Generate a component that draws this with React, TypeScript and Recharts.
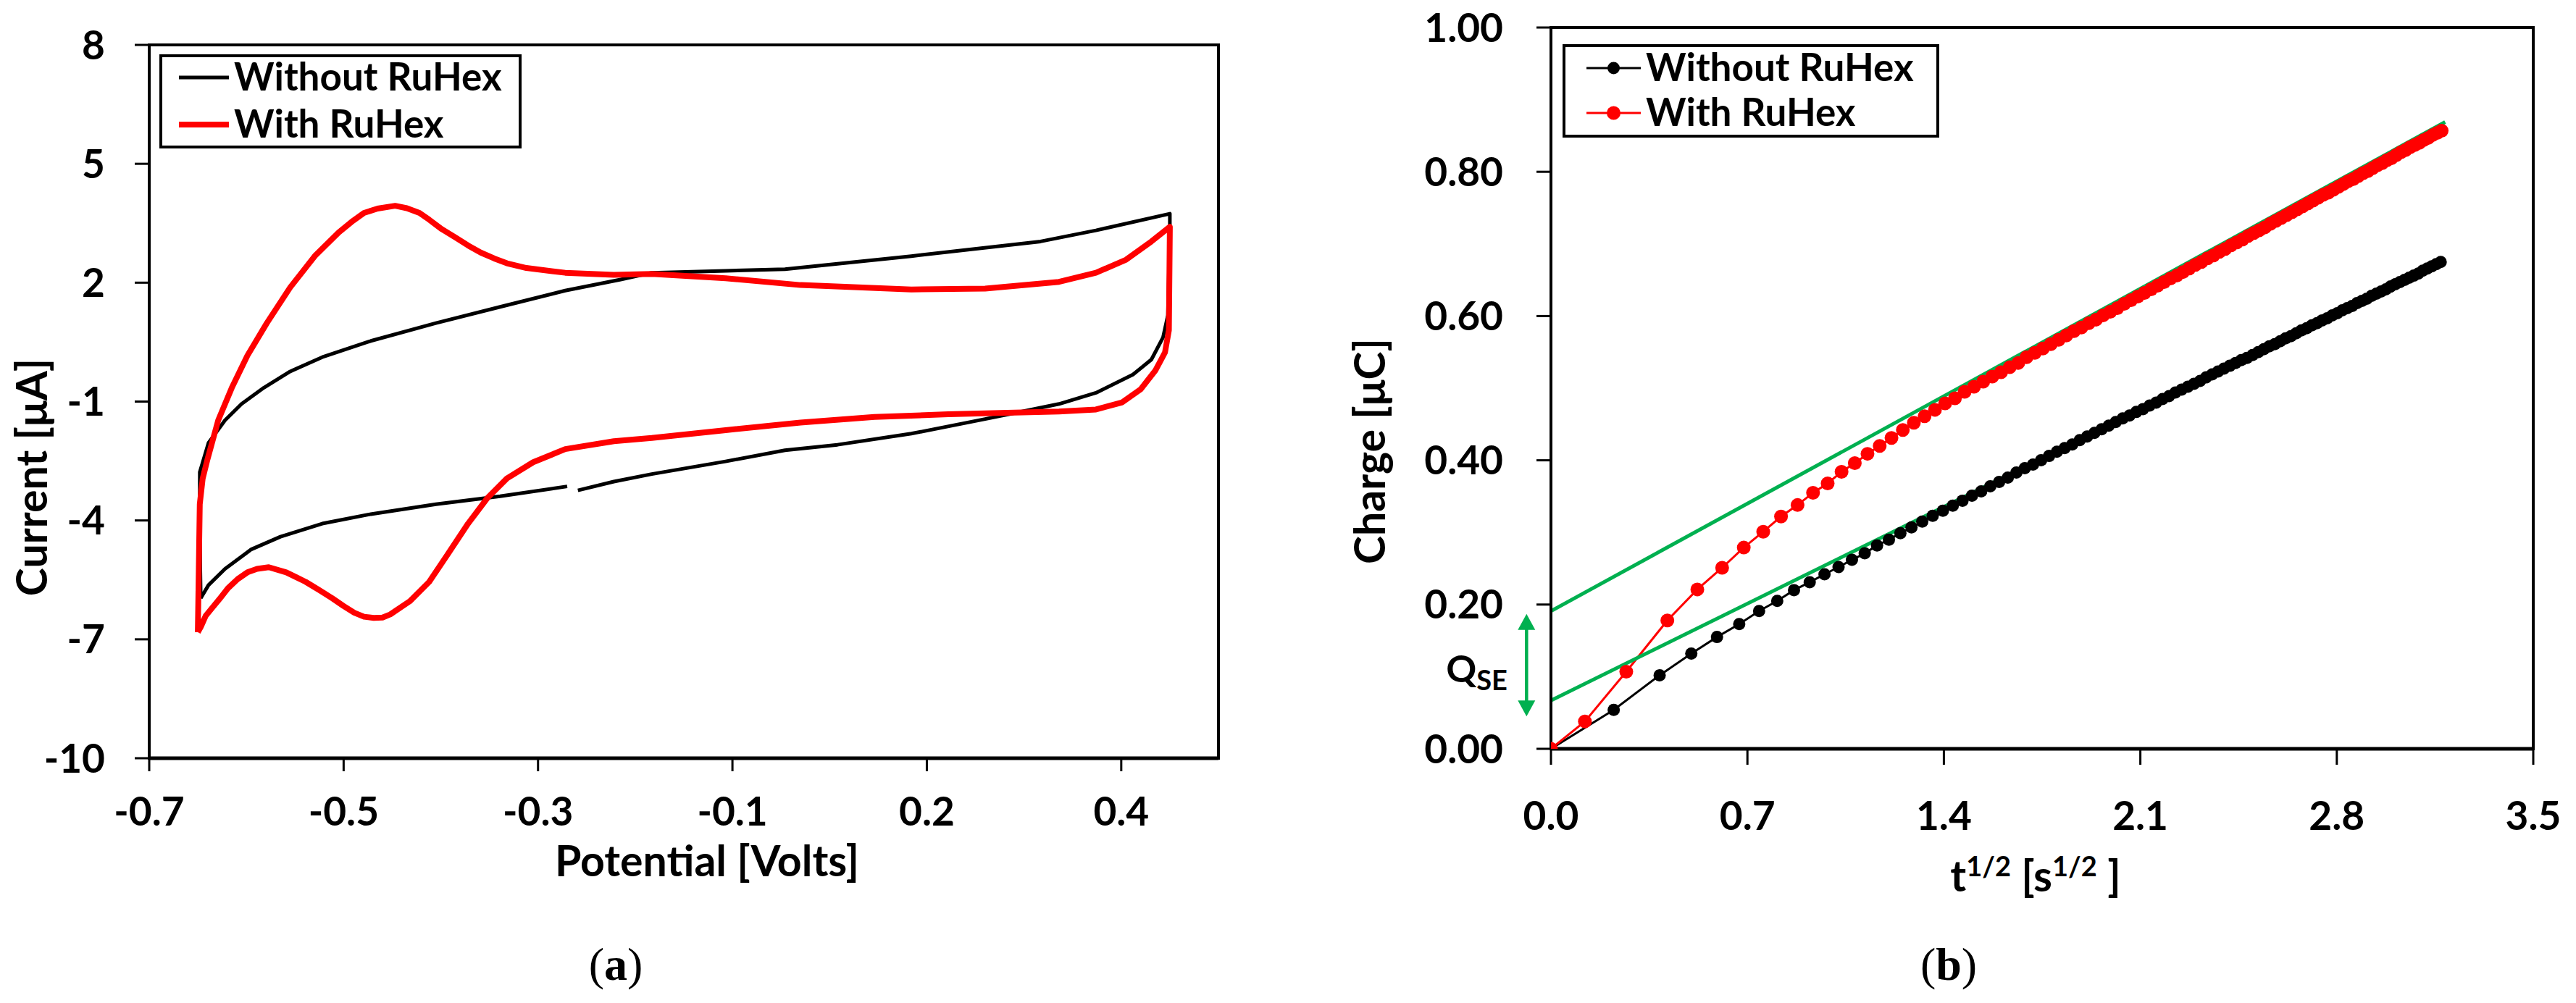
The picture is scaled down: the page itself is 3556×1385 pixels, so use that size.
import React from 'react';
import {
  LineChart,
  Line,
  XAxis,
  YAxis,
  ReferenceArea,
  ReferenceLine,
  ReferenceDot,
  Legend,
} from 'recharts';

const FONT = 'Lato, "Open Sans", "DejaVu Sans", sans-serif';
const SERIF = '"Liberation Serif", "DejaVu Serif", serif';

// ---------------- Panel (a): cyclic voltammetry ----------------
const cvTicksX = [-0.65, -0.45, -0.25, -0.05, 0.15, 0.35];
const cvTickLabelsX = ['-0.7', '-0.5', '-0.3', '-0.1', '0.2', '0.4'];
const cvTicksY = [-10, -7, -4, -1, 2, 5, 8];

const cvWithoutV = [
  -0.597, -0.598, -0.598, -0.589, -0.572, -0.555, -0.532, -0.505, -0.472, -0.422,
  -0.355, -0.289, -0.222, -0.165, -0.133, -0.057, 0.004, 0.134, 0.267, 0.324,
  0.4, 0.4, 0.398, 0.393, 0.381, 0.362, 0.324, 0.286, 0.248, 0.21,
  0.134, 0.058, 0.004, -0.057, -0.133, -0.172, -0.209, -0.214, -0.22, -0.289,
  -0.355, -0.422, -0.472, -0.515, -0.545, -0.572, -0.589, -0.597,
];
const cvWithoutI = [
  -5.96, -4.4, -2.78, -2.04, -1.47, -1.06, -0.65, -0.24, 0.12, 0.53,
  0.98, 1.39, 1.8, 2.08, 2.25, 2.3, 2.34, 2.67, 3.04, 3.32,
  3.74, 3.41, 1.18, 0.62, 0.06, -0.32, -0.78, -1.06, -1.25, -1.44,
  -1.81, -2.09, -2.23, -2.51, -2.83, -3.02, -3.24, null, -3.14, -3.39,
  -3.59, -3.84, -4.08, -4.41, -4.73, -5.22, -5.63, -5.96,
];
const cvWithV = [
  -0.6, -0.599, -0.598, -0.595, -0.59, -0.579, -0.565, -0.549, -0.529, -0.505,
  -0.479, -0.455, -0.442, -0.429, -0.415, -0.397, -0.385, -0.372, -0.362, -0.349,
  -0.335, -0.322, -0.309, -0.295, -0.282, -0.262, -0.222, -0.172, -0.133, -0.057,
  0.02, 0.134, 0.21, 0.286, 0.324, 0.355, 0.381, 0.4, 0.399, 0.395,
  0.385, 0.37, 0.351, 0.324, 0.286, 0.172, 0.096, 0.02, -0.057, -0.133,
  -0.172, -0.222, -0.255, -0.282, -0.302, -0.322, -0.342, -0.362, -0.382, -0.402,
  -0.41, -0.419, -0.429, -0.439, -0.45, -0.462, -0.475, -0.489, -0.499, -0.509,
  -0.527, -0.539, -0.549, -0.559, -0.569, -0.577, -0.585, -0.592, -0.597, -0.6,
];
const cvWithI = [
  -6.82, -5.22, -3.59, -2.94, -2.45, -1.47, -0.65, 0.16, 0.98, 1.88,
  2.69, 3.27, 3.53, 3.76, 3.87, 3.94, 3.88, 3.76, 3.59, 3.35,
  3.14, 2.94, 2.76, 2.61, 2.49, 2.37, 2.25, 2.2, 2.22, 2.11,
  1.94, 1.83, 1.85, 2.02, 2.25, 2.58, 3.04, 3.41, 0.8, 0.24,
  -0.22, -0.69, -1.02, -1.2, -1.25, -1.32, -1.39, -1.53, -1.72, -1.92,
  -2.0, -2.2, -2.53, -2.94, -3.43, -4.08, -4.82, -5.55, -6.04, -6.37,
  -6.45, -6.46, -6.43, -6.33, -6.16, -5.96, -5.76, -5.55, -5.43, -5.31,
  -5.18, -5.22, -5.31, -5.48, -5.71, -5.96, -6.2, -6.41, -6.69, -6.82,
];

// ---------------- Panel (b): chronocoulometry (Anson plot) ----------------
const chTicksX = [0, 0.7, 1.4, 2.1, 2.8, 3.5];
const chTickLabelsX = ['0.0', '0.7', '1.4', '2.1', '2.8', '3.5'];
const chTicksY = [0, 0.2, 0.4, 0.6, 0.8, 1.0];
const chTickLabelsY = ['0.00', '0.20', '0.40', '0.60', '0.80', '1.00'];

const chWithoutX = [
  0, 0.2236, 0.3873, 0.5, 0.5916, 0.6708, 0.7416, 0.8062, 0.866, 0.922,
  0.9747, 1.0247, 1.0724, 1.118, 1.1619, 1.2042, 1.245, 1.2845, 1.3229, 1.3601,
  1.3964, 1.4318, 1.4663, 1.5, 1.533, 1.5652, 1.5969, 1.6279, 1.6583, 1.6882,
  1.7176, 1.7464, 1.7748, 1.8028, 1.8303, 1.8574, 1.8841, 1.9105, 1.9365, 1.9621,
  1.9875, 2.0125, 2.0372, 2.0616, 2.0857, 2.1095, 2.1331, 2.1564, 2.1794, 2.2023,
  2.2249, 2.2472, 2.2694, 2.2913, 2.313, 2.3345, 2.3558, 2.377, 2.3979, 2.4187,
  2.4393, 2.4597, 2.4799, 2.5, 2.5199, 2.5397, 2.5593, 2.5788, 2.5981, 2.6173,
  2.6363, 2.6552, 2.6739, 2.6926, 2.7111, 2.7295, 2.7477, 2.7659, 2.7839, 2.8018,
  2.8196, 2.8373, 2.8548, 2.8723, 2.8896, 2.9069, 2.924, 2.9411, 2.958, 2.9749,
  2.9917, 3.0083, 3.0249, 3.0414, 3.0578, 3.0741, 3.0903, 3.1064, 3.1225, 3.1385,
  3.1544, 3.1702,
];
const chWithoutQ = [
  0, 0.054, 0.102, 0.132, 0.155, 0.173, 0.191, 0.205, 0.22, 0.231,
  0.242, 0.252, 0.262, 0.271, 0.282, 0.29, 0.299, 0.307, 0.315, 0.323,
  0.33, 0.337, 0.344, 0.351, 0.357, 0.364, 0.37, 0.376, 0.383, 0.389,
  0.394, 0.4, 0.406, 0.412, 0.417, 0.422, 0.428, 0.433, 0.438, 0.443,
  0.448, 0.453, 0.458, 0.462, 0.467, 0.471, 0.476, 0.48, 0.485, 0.489,
  0.494, 0.498, 0.502, 0.506, 0.51, 0.515, 0.519, 0.523, 0.527, 0.531,
  0.535, 0.539, 0.542, 0.546, 0.55, 0.554, 0.558, 0.561, 0.565, 0.569,
  0.572, 0.576, 0.58, 0.583, 0.587, 0.59, 0.594, 0.597, 0.601, 0.604,
  0.608, 0.611, 0.614, 0.618, 0.621, 0.624, 0.628, 0.631, 0.634, 0.637,
  0.641, 0.644, 0.647, 0.65, 0.653, 0.656, 0.659, 0.663, 0.666, 0.669,
  0.672, 0.675,
];
const chWithX = [
  0, 0.121, 0.2683, 0.4147, 0.5215, 0.6099, 0.687, 0.7563, 0.8198, 0.8786,
  0.9338, 0.9859, 1.0354, 1.0826, 1.1278, 1.1713, 1.2133, 1.2538, 1.2931, 1.3312,
  1.3682, 1.4043, 1.4394, 1.4738, 1.5073, 1.5401, 1.5723, 1.6037, 1.6346, 1.6649,
  1.6947, 1.724, 1.7527, 1.781, 1.8089, 1.8363, 1.8633, 1.89, 1.9163, 1.9422,
  1.9677, 1.993, 2.0179, 2.0426, 2.0669, 2.0909, 2.1147, 2.1382, 2.1615, 2.1845,
  2.2073, 2.2298, 2.2521, 2.2742, 2.2961, 2.3178, 2.3392, 2.3605, 2.3816, 2.4025,
  2.4232, 2.4438, 2.4641, 2.4843, 2.5044, 2.5243, 2.544, 2.5636, 2.583, 2.6023,
  2.6214, 2.6405, 2.6593, 2.678, 2.6967, 2.7151, 2.7335, 2.7517, 2.7699, 2.7878,
  2.8057, 2.8235, 2.8411, 2.8587, 2.8761, 2.8934, 2.9107, 2.9278, 2.9448, 2.9618,
  2.9786, 2.9953, 3.012, 3.0285, 3.045, 3.0614, 3.0777, 3.0939, 3.11, 3.126,
  3.142, 3.1579, 3.1736,
];
const chWithQ = [
  0, 0.038, 0.107, 0.178, 0.221, 0.251, 0.279, 0.301, 0.322, 0.338,
  0.355, 0.368, 0.384, 0.396, 0.409, 0.42, 0.431, 0.442, 0.452, 0.461,
  0.47, 0.479, 0.486, 0.495, 0.502, 0.509, 0.516, 0.522, 0.529, 0.535,
  0.543, 0.549, 0.555, 0.561, 0.567, 0.573, 0.579, 0.584, 0.59, 0.595,
  0.601, 0.606, 0.611, 0.617, 0.622, 0.627, 0.632, 0.637, 0.642, 0.647,
  0.652, 0.656, 0.661, 0.666, 0.671, 0.675, 0.68, 0.684, 0.689, 0.693,
  0.698, 0.702, 0.706, 0.711, 0.715, 0.719, 0.723, 0.728, 0.732, 0.736,
  0.74, 0.744, 0.748, 0.752, 0.756, 0.76, 0.764, 0.768, 0.771, 0.775,
  0.779, 0.783, 0.787, 0.79, 0.794, 0.798, 0.801, 0.805, 0.809, 0.812,
  0.816, 0.819, 0.823, 0.827, 0.83, 0.834, 0.837, 0.84, 0.844, 0.847,
  0.851, 0.854, 0.857,
];

// linear fits (green)
const fitUpperX = [0, 3.186];
const fitUpperQ = [0.191, 0.869];
const fitLowerX = [0, 3.18];
const fitLowerQ = [0.067, 0.677];

// Q_SE double arrow and label
const qseArrowX = [-0.087, -0.087];
const qseArrowQ = [0.045, 0.187];
const qseLabelX = -0.155;
const qseLabelQ = 0.092;

const zip = (xs: number[], ys: (number | null)[]) => xs.map((x, i) => ({ x, y: ys[i] }));

const tickFont = { fontFamily: FONT, fontWeight: 700, fill: '#000', fontSize: 55 };
const axisText = { fontFamily: FONT, fontWeight: 700, fill: '#000', fontSize: 59 } as const;

type Entry = { name: string; color: string; width: number; r?: number };

function LegendBox({
  w,
  h,
  entries,
  sx1,
  sx2,
  tx,
  rows,
  bases,
}: {
  w: number;
  h: number;
  entries: Entry[];
  sx1: number;
  sx2: number;
  tx: number;
  rows: number[];
  bases: number[];
}) {
  return (
    <svg width={w} height={h} style={{ display: 'block', overflow: 'visible' }}>
      <rect x={2} y={2} width={w - 4} height={h - 4} fill="#fff" stroke="#000" strokeWidth={4} />
      {entries.map((e, i) => (
        <g key={e.name}>
          <line x1={sx1} x2={sx2} y1={rows[i]} y2={rows[i]} stroke={e.color} strokeWidth={e.width} />
          {e.r ? <circle cx={(sx1 + sx2) / 2} cy={rows[i]} r={e.r} fill={e.color} /> : null}
          <text x={tx} y={bases[i]} fontFamily={FONT} fontWeight={700} fontSize={53} fill="#000">
            {e.name}
          </text>
        </g>
      ))}
    </svg>
  );
}

function QseArrow(props: any) {
  const { x1, y1, x2, y2 } = props;
  const x = (x1 + x2) / 2;
  const top = Math.min(y1, y2);
  const bot = Math.max(y1, y2);
  const hw = 12;
  const hh = 22;
  return (
    <g>
      <line x1={x} x2={x} y1={top + hh - 2} y2={bot - hh + 2} stroke="#00B050" strokeWidth={4.5} />
      <polygon points={`${x},${top} ${x - hw},${top + hh} ${x + hw},${top + hh}`} fill="#00B050" />
      <polygon points={`${x},${bot} ${x - hw},${bot - hh} ${x + hw},${bot - hh}`} fill="#00B050" />
    </g>
  );
}

function QseText(props: any) {
  const { cx, cy } = props;
  return (
    <text x={cx} y={cy} textAnchor="end" fontFamily={FONT} fontWeight={700} fontSize={52} fill="#000">
      Q
      <tspan fontSize={38} dy={11}>
        SE
      </tspan>
    </text>
  );
}

function PanelA() {
  return (
    <LineChart width={1778} height={1385} margin={{ top: 62, right: 96, bottom: 258, left: 0 }}>
      <XAxis
        type="number"
        dataKey="x"
        domain={[-0.65, 0.45]}
        ticks={cvTicksX}
        interval={0}
        allowDataOverflow
        tickFormatter={(v: number) => cvTickLabelsX[cvTicksX.indexOf(v)]}
        height={80}
        tickSize={18}
        tickMargin={36}
        axisLine={{ stroke: '#000', strokeWidth: 5 }}
        tickLine={{ stroke: '#000', strokeWidth: 3 }}
        tick={tickFont}
        label={{
          content: () => (
            <g>
              <text x={976} y={1210} textAnchor="middle" {...axisText}>
                Potential [Volts]
              </text>
              <text x={850} y={1353} textAnchor="middle" fontFamily={SERIF} fontSize={64} fill="#000">
                (<tspan fontWeight={700}>a</tspan>)
              </text>
            </g>
          ),
        }}
      />
      <YAxis
        type="number"
        domain={[-10, 8]}
        ticks={cvTicksY}
        interval={0}
        allowDataOverflow
        width={206}
        tickSize={20}
        tickMargin={41}
        axisLine={{ stroke: '#000', strokeWidth: 4 }}
        tickLine={{ stroke: '#000', strokeWidth: 3 }}
        tick={tickFont}
        label={{
          content: () => (
            <text x={65} y={659} transform="rotate(-90 65 659)" textAnchor="middle" {...axisText}>
              Current [μA]
            </text>
          ),
        }}
      />
      <ReferenceArea x1={-0.65} x2={0.45} y1={-10} y2={8} fill="none" stroke="#000" strokeWidth={4} ifOverflow="visible" />
      <Line
        data={zip(cvWithoutV, cvWithoutI)}
        dataKey="y"
        name="Without RuHex"
        type="linear"
        stroke="#000"
        strokeWidth={5}
        strokeLinejoin="round"
        dot={false}
        connectNulls={false}
        isAnimationActive={false}
      />
      <Line
        data={zip(cvWithV, cvWithI)}
        dataKey="y"
        name="With RuHex"
        type="linear"
        stroke="#FF0000"
        strokeWidth={8}
        strokeLinejoin="round"
        dot={false}
        isAnimationActive={false}
      />
      <Legend
        layout="horizontal"
        verticalAlign="middle"
        align="center"
        wrapperStyle={{ left: 220, top: 75, width: 500, height: 130 }}
        content={() => (
          <LegendBox
            w={500}
            h={130}
            sx1={27}
            sx2={96}
            tx={103}
            rows={[32, 97]}
            bases={[50, 115]}
            entries={[
              { name: 'Without RuHex', color: '#000', width: 5 },
              { name: 'With RuHex', color: '#FF0000', width: 8 },
            ]}
          />
        )}
      />
    </LineChart>
  );
}

function PanelB() {
  return (
    <LineChart width={1778} height={1385} margin={{ top: 38, right: 59, bottom: 271, left: 0 }}>
      <XAxis
        type="number"
        dataKey="x"
        domain={[0, 3.5]}
        ticks={chTicksX}
        interval={0}
        allowDataOverflow
        tickFormatter={(v: number) => chTickLabelsX[chTicksX.indexOf(v)]}
        height={80}
        tickSize={22}
        tickMargin={51}
        axisLine={{ stroke: '#000', strokeWidth: 5 }}
        tickLine={{ stroke: '#000', strokeWidth: 3 }}
        tick={tickFont}
        label={{
          content: () => (
            <g>
              <text x={1032} y={1231} textAnchor="middle" {...axisText}>
                t
                <tspan fontSize={38} dy={-21}>
                  1/2
                </tspan>
                <tspan dy={21}> [s</tspan>
                <tspan fontSize={38} dy={-21}>
                  1/2
                </tspan>
                <tspan dy={21}> ]</tspan>
              </text>
              <text x={912} y={1353} textAnchor="middle" fontFamily={SERIF} fontSize={64} fill="#000">
                (<tspan fontWeight={700}>b</tspan>)
              </text>
            </g>
          ),
        }}
      />
      <YAxis
        type="number"
        domain={[0, 1]}
        ticks={chTicksY}
        interval={0}
        allowDataOverflow
        width={363}
        tickSize={20}
        tickMargin={46}
        tickFormatter={(v: number) => chTickLabelsY[chTicksY.indexOf(v)]}
        axisLine={{ stroke: '#000', strokeWidth: 4 }}
        tickLine={{ stroke: '#000', strokeWidth: 3 }}
        tick={tickFont}
        label={{
          content: () => (
            <text x={134} y={623} transform="rotate(-90 134 623)" textAnchor="middle" {...axisText}>
              Charge [μC]
            </text>
          ),
        }}
      />
      <ReferenceArea x1={0} x2={3.5} y1={0} y2={1} fill="none" stroke="#000" strokeWidth={4} ifOverflow="visible" />
      <Line
        data={zip(chWithoutX, chWithoutQ)}
        dataKey="y"
        name="Without RuHex"
        type="linear"
        stroke="#000"
        strokeWidth={3}
        dot={{ r: 8.5, fill: '#000', stroke: '#000', strokeWidth: 0 }}
        isAnimationActive={false}
      />
      <Line
        data={zip(chWithX, chWithQ)}
        dataKey="y"
        name="With RuHex"
        type="linear"
        stroke="#FF0000"
        strokeWidth={3}
        dot={{ r: 9.5, fill: '#FF0000', stroke: '#FF0000', strokeWidth: 0 }}
        isAnimationActive={false}
      />
      <Line
        data={zip(fitUpperX, fitUpperQ)}
        dataKey="y"
        name="fit with"
        legendType="none"
        type="linear"
        stroke="#00B050"
        strokeWidth={5}
        dot={false}
        isAnimationActive={false}
      />
      <Line
        data={zip(fitLowerX, fitLowerQ)}
        dataKey="y"
        name="fit without"
        legendType="none"
        type="linear"
        stroke="#00B050"
        strokeWidth={5}
        dot={false}
        isAnimationActive={false}
      />
      <ReferenceLine
        segment={[
          { x: qseArrowX[0], y: qseArrowQ[0] },
          { x: qseArrowX[1], y: qseArrowQ[1] },
        ]}
        ifOverflow="visible"
        stroke="#00B050"
        shape={QseArrow}
      />
      <ReferenceDot x={qseLabelX} y={qseLabelQ} r={0} ifOverflow="visible" shape={QseText} />
      <Legend
        layout="horizontal"
        verticalAlign="middle"
        align="center"
        wrapperStyle={{ left: 379, top: 61, width: 520, height: 129 }}
        content={() => (
          <LegendBox
            w={520}
            h={129}
            sx1={33}
            sx2={108}
            tx={115}
            rows={[33, 95]}
            bases={[51, 113]}
            entries={[
              { name: 'Without RuHex', color: '#000', width: 3, r: 8.5 },
              { name: 'With RuHex', color: '#FF0000', width: 3, r: 9.5 },
            ]}
          />
        )}
      />
    </LineChart>
  );
}

export default function App() {
  return (
    <div style={{ position: 'absolute', left: 0, top: 0, width: 3556, height: 1385, background: '#fff' }}>
      <div style={{ position: 'absolute', left: 0, top: 0 }}>
        <PanelA />
      </div>
      <div style={{ position: 'absolute', left: 1778, top: 0 }}>
        <PanelB />
      </div>
    </div>
  );
}
